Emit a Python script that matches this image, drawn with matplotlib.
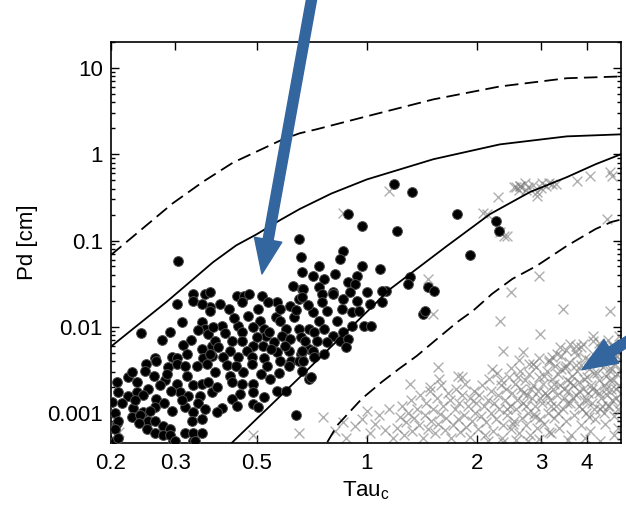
import matplotlib
matplotlib.use("Agg")
import matplotlib.pyplot as plt
from matplotlib.ticker import FixedLocator, FixedFormatter, LogLocator, NullLocator, FuncFormatter

plt.rcParams['font.family'] = ['Liberation Sans', 'DejaVu Sans']
plt.rcParams['mathtext.default'] = 'regular'

# Model curves (Tau_c, Pd)
upper_dashed_tau = [0.2, 0.295, 0.357, 0.431, 0.504, 0.59, 0.656, 0.731, 1.0, 1.52, 2.31, 3.52, 4.95]
upper_dashed_pd = [0.068, 0.27, 0.48, 0.80, 1.09, 1.49, 1.75, 1.95, 2.75, 4.32, 6.1, 7.6, 7.97]

upper_solid_tau = [0.2, 0.284, 0.38, 0.44, 0.5, 0.579, 0.656, 0.8, 1.0, 1.52, 2.31, 3.52, 4.95]
upper_solid_pd = [0.0059, 0.0195, 0.056, 0.088, 0.118, 0.172, 0.232, 0.35, 0.51, 0.875, 1.3, 1.61, 1.7]

lower_solid_tau = [0.425, 0.656, 1.16, 1.655, 2.17, 2.79, 3.52, 4.22, 4.95]
lower_solid_pd = [0.00044, 0.0026, 0.0275, 0.0863, 0.202, 0.364, 0.542, 0.766, 1.0]

lower_dashed_tau = [0.78, 0.83, 0.97, 1.10, 1.23, 1.37, 1.56, 1.77, 1.95, 2.2, 2.5, 2.91, 3.52, 4.22, 4.66, 4.95]
lower_dashed_pd = [0.00046, 0.00072, 0.00147, 0.0023, 0.0033, 0.0046, 0.0073, 0.0114, 0.0153, 0.0241,
                   0.0359, 0.0507, 0.0866, 0.136, 0.164, 0.175]

# Observed events (black dots)
dot_points = [
    (0.303, 0.0185), (0.335, 0.0241), (0.335, 0.020), (0.361, 0.0241), (0.373, 0.017), (0.355, 0.0185),
    (0.313, 0.0114), (0.355, 0.0114), (0.361, 0.0095), (0.368, 0.0083), (0.242, 0.0085), (0.276, 0.0071),
    (0.331, 0.0071), (0.315, 0.0062), (0.355, 0.0056), (0.377, 0.006), (0.263, 0.0044), (0.294, 0.0045),
    (0.303, 0.0043), (0.357, 0.0043), (0.377, 0.0046),
    (0.305, 0.058), (0.205, 0.00099), (0.208, 0.00076), (0.205, 0.00048), (0.296, 0.00048), (0.335, 0.00048),
    (0.250, 0.0037), (0.266, 0.0040), (0.286, 0.0034), (0.303, 0.0037), (0.319, 0.0035), (0.344, 0.0035),
    (0.366, 0.0037), (0.248, 0.0031), (0.208, 0.0023), (0.222, 0.0026), (0.236, 0.0023), (0.209, 0.00177),
    (0.222, 0.00159), (0.236, 0.00177), (0.252, 0.0019), (0.281, 0.0024), (0.303, 0.0022), (0.323, 0.0027),
    (0.335, 0.0021), (0.355, 0.0022), (0.368, 0.0023), (0.377, 0.00177), (0.309, 0.00177), (0.325, 0.00159),
    (0.350, 0.00159), (0.266, 0.00147), (0.263, 0.00119), (0.201, 0.00136), (0.229, 0.00113), (0.245, 0.00104),
    (0.255, 0.00107), (0.294, 0.00107), (0.319, 0.00119), (0.335, 0.00104), (0.228, 0.00091), (0.240, 0.00094),
    (0.252, 0.00082), (0.263, 0.0008), (0.238, 0.00076), (0.209, 0.00082), (0.205, 0.00066), (0.333, 0.00082),
    (0.355, 0.00086), (0.251, 0.00066), (0.278, 0.0007), (0.290, 0.00066), (0.263, 0.00058), (0.278, 0.00055),
    (0.290, 0.00055), (0.319, 0.00058), (0.335, 0.00058), (0.355, 0.00058), (0.209, 0.00051), (0.299, 0.00048),
    (0.339, 0.00048),
    (0.442, 0.0228), (0.462, 0.0228), (0.476, 0.0241), (0.456, 0.0195), (0.517, 0.0228), (0.397, 0.0185),
    (0.373, 0.0254), (0.373, 0.0153), (0.474, 0.0134), (0.510, 0.0117), (0.402, 0.0103), (0.380, 0.010),
    (0.444, 0.0103), (0.456, 0.0088), (0.489, 0.010), (0.428, 0.0069), (0.456, 0.0069), (0.385, 0.0069),
    (0.524, 0.0095), (0.531, 0.0079), (0.541, 0.0087), (0.564, 0.0131), (0.568, 0.0195), (0.580, 0.0162),
    (0.618, 0.0175), (0.627, 0.030), (0.666, 0.0275), (0.652, 0.0211), (0.712, 0.0149), (0.580, 0.0117),
    (0.600, 0.0095), (0.586, 0.0079), (0.618, 0.0073), (0.652, 0.0095), (0.659, 0.0077), (0.695, 0.0095),
    (0.716, 0.0088), (0.520, 0.006), (0.558, 0.0067), (0.489, 0.006), (0.470, 0.0053), (0.422, 0.0053),
    (0.391, 0.0059), (0.373, 0.0049), (0.405, 0.0045), (0.444, 0.0045), (0.486, 0.0045), (0.524, 0.0043),
    (0.568, 0.0051), (0.612, 0.0053), (0.659, 0.0049), (0.695, 0.0056), (0.720, 0.0046), (0.580, 0.0040),
    (0.621, 0.0040),
    (0.385, 0.0030), (0.422, 0.0027), (0.459, 0.0030), (0.486, 0.0037), (0.535, 0.0035), (0.576, 0.0029),
    (0.612, 0.0035), (0.652, 0.0040), (0.695, 0.0025), (0.390, 0.0020), (0.428, 0.0023), (0.456, 0.0022),
    (0.489, 0.0022), (0.450, 0.00168), (0.489, 0.00177), (0.524, 0.00155), (0.428, 0.00147), (0.403, 0.00113),
    (0.390, 0.00104), (0.442, 0.00122), (0.489, 0.00129), (0.504, 0.00119), (0.568, 0.0018), (0.600, 0.0018),
    (0.640, 0.00094),
    (1.19, 0.45), (1.33, 0.364), (0.89, 0.202), (0.97, 0.147), (1.21, 0.129), (0.652, 0.104),
    (0.86, 0.0757), (0.845, 0.0611), (0.659, 0.064), (0.74, 0.0507), (0.97, 0.0507), (1.085, 0.0469),
    (0.712, 0.0389), (0.666, 0.0433), (0.766, 0.0359), (0.82, 0.041), (0.94, 0.0389), (0.74, 0.029),
    (0.89, 0.0331), (0.93, 0.0314), (1.31, 0.0379), (1.30, 0.0314), (1.47, 0.029), (1.53, 0.0261),
    (0.67, 0.0275), (0.81, 0.0254), (1.0, 0.0254), (1.13, 0.0261),
    (0.666, 0.0222), (0.755, 0.0241), (0.81, 0.0241), (0.90, 0.0254), (1.10, 0.0261), (0.755, 0.0195),
    (0.86, 0.0211), (0.94, 0.020), (1.02, 0.0185), (1.10, 0.0195), (0.78, 0.0153), (0.855, 0.0162),
    (0.91, 0.0149), (0.955, 0.0153), (0.74, 0.0117), (0.83, 0.0117), (0.91, 0.0103), (0.98, 0.0103),
    (1.03, 0.0103), (0.766, 0.0095), (0.81, 0.0079), (0.86, 0.0088), (0.68, 0.0069), (0.73, 0.0069),
    (0.78, 0.0067), (0.845, 0.0069), (0.89, 0.0073), (0.875, 0.0059), (0.666, 0.0053), (0.712, 0.0053),
    (0.766, 0.0049), (0.67, 0.0040), (0.716, 0.0045), (0.666, 0.0031), (0.706, 0.0026),
    (1.76, 0.202), (2.26, 0.168), (2.30, 0.129), (1.91, 0.068), (1.42, 0.0141), (1.44, 0.0153),
    (0.228, 0.0030), (0.262, 0.0027), (0.285, 0.0028), (0.272, 0.0021), (0.292, 0.0018), (0.245, 0.0016),
    (0.215, 0.0013), (0.232, 0.0014), (0.280, 0.0013), (0.312, 0.0014), (0.345, 0.0013), (0.362, 0.0011),
    (0.415, 0.0036), (0.440, 0.0035), (0.410, 0.0085), (0.435, 0.0128), (0.420, 0.0160), (0.505, 0.0160),
    (0.538, 0.0195), (0.500, 0.0077), (0.547, 0.0055), (0.598, 0.0060), (0.545, 0.0025), (0.515, 0.0028),
    (0.633, 0.0130), (0.690, 0.0180), (0.640, 0.0155), (0.345, 0.0092), (0.290, 0.0088), (0.322, 0.0048),
]

# Non-events (grey crosses)
cross_points = [
    (0.21, 0.0006), (0.49, 0.00055), (0.652, 0.00058), (0.76, 0.00091),
    (0.82, 0.00062), (0.88, 0.00052), (0.93, 0.0007), (0.97, 0.00085), (1.02, 0.00058), (1.05, 0.00075),
    (1.08, 0.00095), (1.12, 0.00064), (1.15, 0.0011), (1.18, 0.00052), (0.86, 0.00078), (1.0, 0.00105),
    (1.21, 0.00068), (1.23, 0.0009), (1.25, 0.0012), (1.26, 0.00055), (1.28, 0.00078), (1.3, 0.001),
    (1.32, 0.0014), (1.33, 0.00062), (1.35, 0.00088), (1.37, 0.0011), (1.39, 0.00072), (1.4, 0.0016),
    (1.42, 0.00052), (1.44, 0.00095), (1.45, 0.0013), (1.47, 0.00066), (1.49, 0.0018), (1.5, 0.00082),
    (1.52, 0.0011), (1.54, 0.00058), (1.56, 0.0015), (1.57, 0.00075), (1.59, 0.00098), (1.6, 0.0021),
    (1.62, 0.0012), (1.64, 0.00063), (1.65, 0.00088), (1.67, 0.0017), (1.69, 0.0014), (1.7, 0.00052),
    (1.72, 0.00072), (1.74, 0.0011), (1.75, 0.0019), (1.77, 0.00085), (1.79, 0.0013), (1.8, 0.00061),
    (1.82, 0.0016), (1.84, 0.00095), (1.86, 0.0022), (1.87, 0.00069), (1.89, 0.0012), (1.91, 0.0015),
    (1.92, 0.00053), (1.94, 0.00082), (1.96, 0.0018), (1.97, 0.001), (1.99, 0.0013), (1.31, 0.0022),
    (1.58, 0.0025), (1.78, 0.0027),
    (2.01, 0.00065), (2.03, 0.0016), (2.05, 0.00092), (2.07, 0.0021), (2.09, 0.0012), (2.1, 0.00055),
    (2.12, 0.00078), (2.14, 0.0014), (2.16, 0.0025), (2.18, 0.001), (2.19, 0.0018), (2.21, 0.00062),
    (2.23, 0.0013), (2.25, 0.00085), (2.27, 0.0029), (2.28, 0.0016), (2.3, 0.0011), (2.32, 0.0021),
    (2.34, 0.00052), (2.36, 0.00072), (2.38, 0.0014), (2.4, 0.0019), (2.42, 0.00095), (2.44, 0.0026),
    (2.46, 0.0012), (2.48, 0.00066), (2.5, 0.0017), (2.52, 0.00082), (2.54, 0.0022), (2.56, 0.0011),
    (2.58, 0.0014), (2.6, 0.00058), (2.62, 0.0031), (2.64, 0.0019), (2.66, 0.00088), (2.68, 0.0013),
    (2.7, 0.0024), (2.72, 0.00072), (2.74, 0.0016), (2.76, 0.001), (2.78, 0.0028), (2.8, 0.00055),
    (2.82, 0.0015), (2.84, 0.0021), (2.86, 0.00098), (2.88, 0.0012), (2.9, 0.0034), (2.92, 0.00068),
    (2.94, 0.0018), (2.96, 0.0026), (2.98, 0.00085), (2.15, 0.00048), (2.35, 0.00046), (2.55, 0.00049),
    (2.75, 0.00047), (2.95, 0.0005), (2.47, 0.0033), (2.2, 0.0032), (2.85, 0.0037), (2.6, 0.0041),
    (3.01, 0.0013), (3.03, 0.0022), (3.05, 0.00075), (3.07, 0.0017), (3.1, 0.0031), (3.12, 0.001),
    (3.14, 0.0041), (3.16, 0.0014), (3.18, 0.00058), (3.2, 0.0025), (3.22, 0.0019), (3.25, 0.00088),
    (3.27, 0.0035), (3.29, 0.0012), (3.31, 0.0016), (3.34, 0.0028), (3.36, 0.00068), (3.38, 0.0021),
    (3.4, 0.0046), (3.43, 0.0011), (3.45, 0.0015), (3.47, 0.0033), (3.5, 0.00082), (3.52, 0.0024),
    (3.54, 0.0018), (3.57, 0.0039), (3.59, 0.0013), (3.62, 0.00055), (3.64, 0.0027), (3.66, 0.0021),
    (3.69, 0.00095), (3.71, 0.0052), (3.74, 0.0016), (3.76, 0.0031), (3.79, 0.0012), (3.81, 0.0023),
    (3.84, 0.00072), (3.86, 0.0036), (3.89, 0.0019), (3.91, 0.0014), (3.94, 0.0044), (3.96, 0.001),
    (3.99, 0.0026), (4.02, 0.0017), (4.05, 0.0032), (4.07, 0.00062), (4.1, 0.0021), (4.13, 0.0013),
    (4.16, 0.0048), (4.19, 0.0029), (4.21, 0.00085), (4.24, 0.0018), (4.27, 0.0038), (4.3, 0.0024),
    (4.33, 0.0011), (4.36, 0.0015), (4.39, 0.0056), (4.42, 0.0034), (4.45, 0.0021), (4.48, 0.00075),
    (4.51, 0.0027), (4.54, 0.0016), (4.57, 0.0043), (4.6, 0.0012), (4.63, 0.0031), (4.66, 0.0019),
    (4.69, 0.0062), (4.72, 0.0024), (4.75, 0.00092), (4.78, 0.0037), (4.81, 0.0015), (4.84, 0.0028),
    (4.87, 0.0051), (4.9, 0.0021), (4.93, 0.0013), (3.15, 0.0006), (3.55, 0.00049), (3.95, 0.00052),
    (4.35, 0.00048), (4.75, 0.00055), (4.15, 0.0068), (4.55, 0.0071), (3.85, 0.0058), (4.88, 0.0078),
    (3.3, 0.0049), (3.6, 0.0064), (4.05, 0.0009), (4.45, 0.001), (4.85, 0.00068), (3.75, 0.0047),
    (2.33, 0.0024), (2.41, 0.0011), (2.51, 0.00075), (2.59, 0.0026), (2.67, 0.0017), (2.73, 0.0012),
    (2.81, 0.0019), (2.89, 0.0009), (2.97, 0.0015), (3.04, 0.0027), (3.11, 0.0016), (3.19, 0.0012),
    (3.24, 0.0022), (3.32, 0.001), (3.39, 0.0032), (3.46, 0.0019), (3.53, 0.0013), (3.6, 0.0023),
    (3.67, 0.0015), (3.73, 0.0036), (3.8, 0.0018), (3.87, 0.0011), (3.93, 0.0025), (4.0, 0.0014),
    (4.06, 0.0041), (4.12, 0.0019), (4.18, 0.0011), (4.25, 0.0029), (4.31, 0.0017), (4.38, 0.0012),
    (4.44, 0.0044), (4.5, 0.0019), (4.56, 0.0012), (4.62, 0.0024), (4.68, 0.0014), (4.74, 0.0049),
    (4.8, 0.0019), (4.86, 0.0011), (4.92, 0.0031), (4.95, 0.0017), (3.5, 0.0054), (3.9, 0.0063),
    (4.3, 0.0065), (4.7, 0.0058), (3.2, 0.0045), (2.95, 0.0043),
    (2.96, 0.0389), (2.47, 0.0254), (3.44, 0.0162), (4.62, 0.0153), (2.31, 0.0117), (2.98, 0.0083),
    (4.15, 0.0079), (2.35, 0.0053), (2.67, 0.0051), (1.57, 0.0034), (1.82, 0.0026), (1.49, 0.0020),
    (1.52, 0.0141), (3.37, 0.0059), (3.72, 0.006), (4.41, 0.0056), (4.82, 0.0046), (2.78, 0.0037),
    (3.15, 0.0039), (3.5, 0.0035), (4.62, 0.0033), (4.53, 0.177), (2.37, 0.113), (1.47, 0.0359),
    (0.86, 0.21), (1.15, 0.37),
    (2.28, 0.318), (2.13, 0.202), (2.56, 0.415), (2.63, 0.43), (2.75, 0.415), (2.91, 0.364),
    (3.09, 0.43), (3.21, 0.45), (3.76, 0.49), (4.08, 0.557), (4.62, 0.62), (4.68, 0.557),
    (2.08, 0.21), (2.52, 0.42), (2.62, 0.43), (3.28, 0.45), (2.91, 0.327), (2.31, 0.126),
    (2.41, 0.113), (2.73, 0.39), (3.02, 0.46), (2.7, 0.46), (2.85, 0.44), (3.0, 0.41),
    (3.15, 0.47), (2.6, 0.38),
]

x_ticks = [0.2, 0.3, 0.5, 1, 2, 3, 4]
x_tick_labels = ['0.2', '0.3', '0.5', '1', '2', '3', '4']
x_limits = (0.2, 4.95)
y_limits = (4.5e-4, 20)

arrow_blue = '#33659f'

fig = plt.figure(figsize=(6.26, 5.05), dpi=100)
ax = fig.add_axes([0.1773, 0.1228, 0.8147, 0.7941])
ax.set_xscale('log')
ax.set_yscale('log')

cx, cy = zip(*cross_points)
ax.scatter(cx, cy, marker='x', s=50, c='#7a7a7a', alpha=0.6, linewidths=1.0, zorder=2)

dx, dy = zip(*dot_points)
ax.scatter(dx, dy, marker='o', s=50, c='black', edgecolors='#505050', linewidths=0.7, zorder=3)

dash = (0, (7.5, 3.5))
ax.plot(upper_dashed_tau, upper_dashed_pd, color='black', lw=1.3, linestyle=dash, zorder=4)
ax.plot(upper_solid_tau, upper_solid_pd, color='black', lw=1.3, zorder=4)
ax.plot(lower_solid_tau, lower_solid_pd, color='black', lw=1.3, zorder=4)
ax.plot(lower_dashed_tau, lower_dashed_pd, color='black', lw=1.3, linestyle=dash, zorder=4)

ax.set_xlim(*x_limits)
ax.set_ylim(*y_limits)

ax.xaxis.set_major_locator(FixedLocator(x_ticks))
ax.xaxis.set_major_formatter(FixedFormatter(x_tick_labels))
ax.xaxis.set_minor_locator(NullLocator())
ax.yaxis.set_major_locator(LogLocator(base=10))
ax.yaxis.set_major_formatter(FuncFormatter(lambda v, p: f'{v:g}'))
ax.yaxis.set_minor_locator(LogLocator(base=10, subs=range(2, 10), numticks=20))

ax.tick_params(which='both', direction='in', top=True, right=True, labelsize=16, width=1.0)
ax.tick_params(which='major', length=6)
ax.tick_params(which='minor', length=3)
ax.tick_params(axis='x', pad=7)
ax.tick_params(axis='y', pad=6)
for s in ax.spines.values():
    s.set_linewidth(1.2)

ax.set_ylabel('Pd [cm]', fontsize=16)
ax.yaxis.set_label_coords(-0.143, 0.5)
ax.set_xlabel('Tau$_c$', fontsize=16)
ax.xaxis.set_label_coords(0.5, -0.09)

arrow_style = 'simple,head_length=1.25,head_width=1.0,tail_width=0.36'
ax.annotate('', xy=(0.517, 0.041), xycoords='data', xytext=(0.499, 1.01), textcoords='figure fraction',
            arrowprops=dict(arrowstyle=arrow_style, color=arrow_blue, mutation_scale=20,
                            shrinkA=0, shrinkB=0), annotation_clip=False, zorder=6)
ax.annotate('', xy=(3.87, 0.00318), xycoords='data', xytext=(1.01, 0.33), textcoords='figure fraction',
            arrowprops=dict(arrowstyle=arrow_style, color=arrow_blue, mutation_scale=20,
                            shrinkA=0, shrinkB=0), annotation_clip=False, zorder=6)

fig.savefig('out.png', dpi=100)
